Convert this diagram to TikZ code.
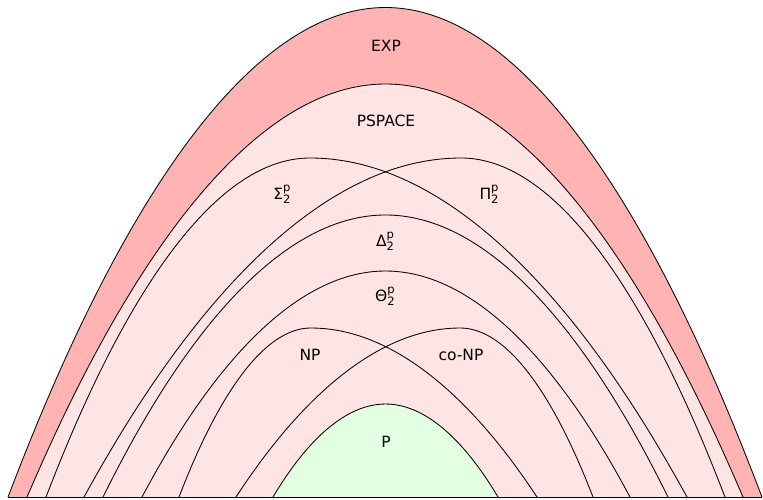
\documentclass[tikz,border=0pt]{standalone}
\usepackage{fontspec}
\setmainfont{DejaVu Sans}
\definecolor{expred}{RGB}{255,179,179}
\definecolor{pspink}{RGB}{255,228,228}
\definecolor{pgreen}{RGB}{226,255,226}
\newcommand\clsname[3]{#1\raisebox{-4pt}{\fontsize{11.5}{12.5}\selectfont\begin{tabular}[b]{@{}l@{}}#3\\#2\end{tabular}}}
\begin{document}
\begin{tikzpicture}[x=1pt,y=-1pt,
  curve/.style={draw=black,line width=0.85pt},
  lbl/.style={font=\fontsize{15.5}{17}\selectfont,inner sep=0pt}]
\useasboundingbox (0,0) rectangle (763,499);
% fills
\fill[expred] (8,497) parabola bend (385.5,7.5) (762,497) -- cycle;
\fill[pspink] (27,497) parabola bend (385.5,84) (743,497) -- cycle;
\fill[pgreen] (273,497) parabola bend (385.5,404) (498,497) -- cycle;
% curves
\draw[curve] (8,497) parabola bend (385.5,7.5) (762,497);
\draw[curve] (27,497) parabola bend (385.5,84) (743,497);
\draw[curve] (46,497) parabola bend (310,158) (687,497);
\draw[curve] (84,497) parabola bend (461,158) (725,497);
\draw[curve] (103,497) parabola bend (385.5,215) (668,497);
\draw[curve] (142,497) parabola bend (385.5,271) (630,497);
\draw[curve] (179,497) parabola bend (311,328) (537,497);
\draw[curve] (236,497) parabola bend (460,328) (593,497);
\draw[curve] (273,497) parabola bend (385.5,404) (498,497);
\draw[curve] (8,497) -- (762,497);
% labels
\node[lbl] (exp) at (386,46) {EXP};
\node[lbl] (pspace) at (386,121) {PSPACE};
\node[lbl] (sigma) at (282,195) {\clsname{Σ}{2}{p}};
\node[lbl] (pi) at (489,195) {\clsname{Π}{2}{p}};
\node[lbl] (delta) at (385,242) {\clsname{Δ}{2}{p}};
\node[lbl] (theta) at (385,297) {\clsname{Θ}{2}{p}};
\node[lbl] (np) at (310,355) {NP};
\node[lbl] (conp) at (461,355) {co-NP};
\node[lbl] (p) at (386,442) {P};
\end{tikzpicture}
\end{document}
